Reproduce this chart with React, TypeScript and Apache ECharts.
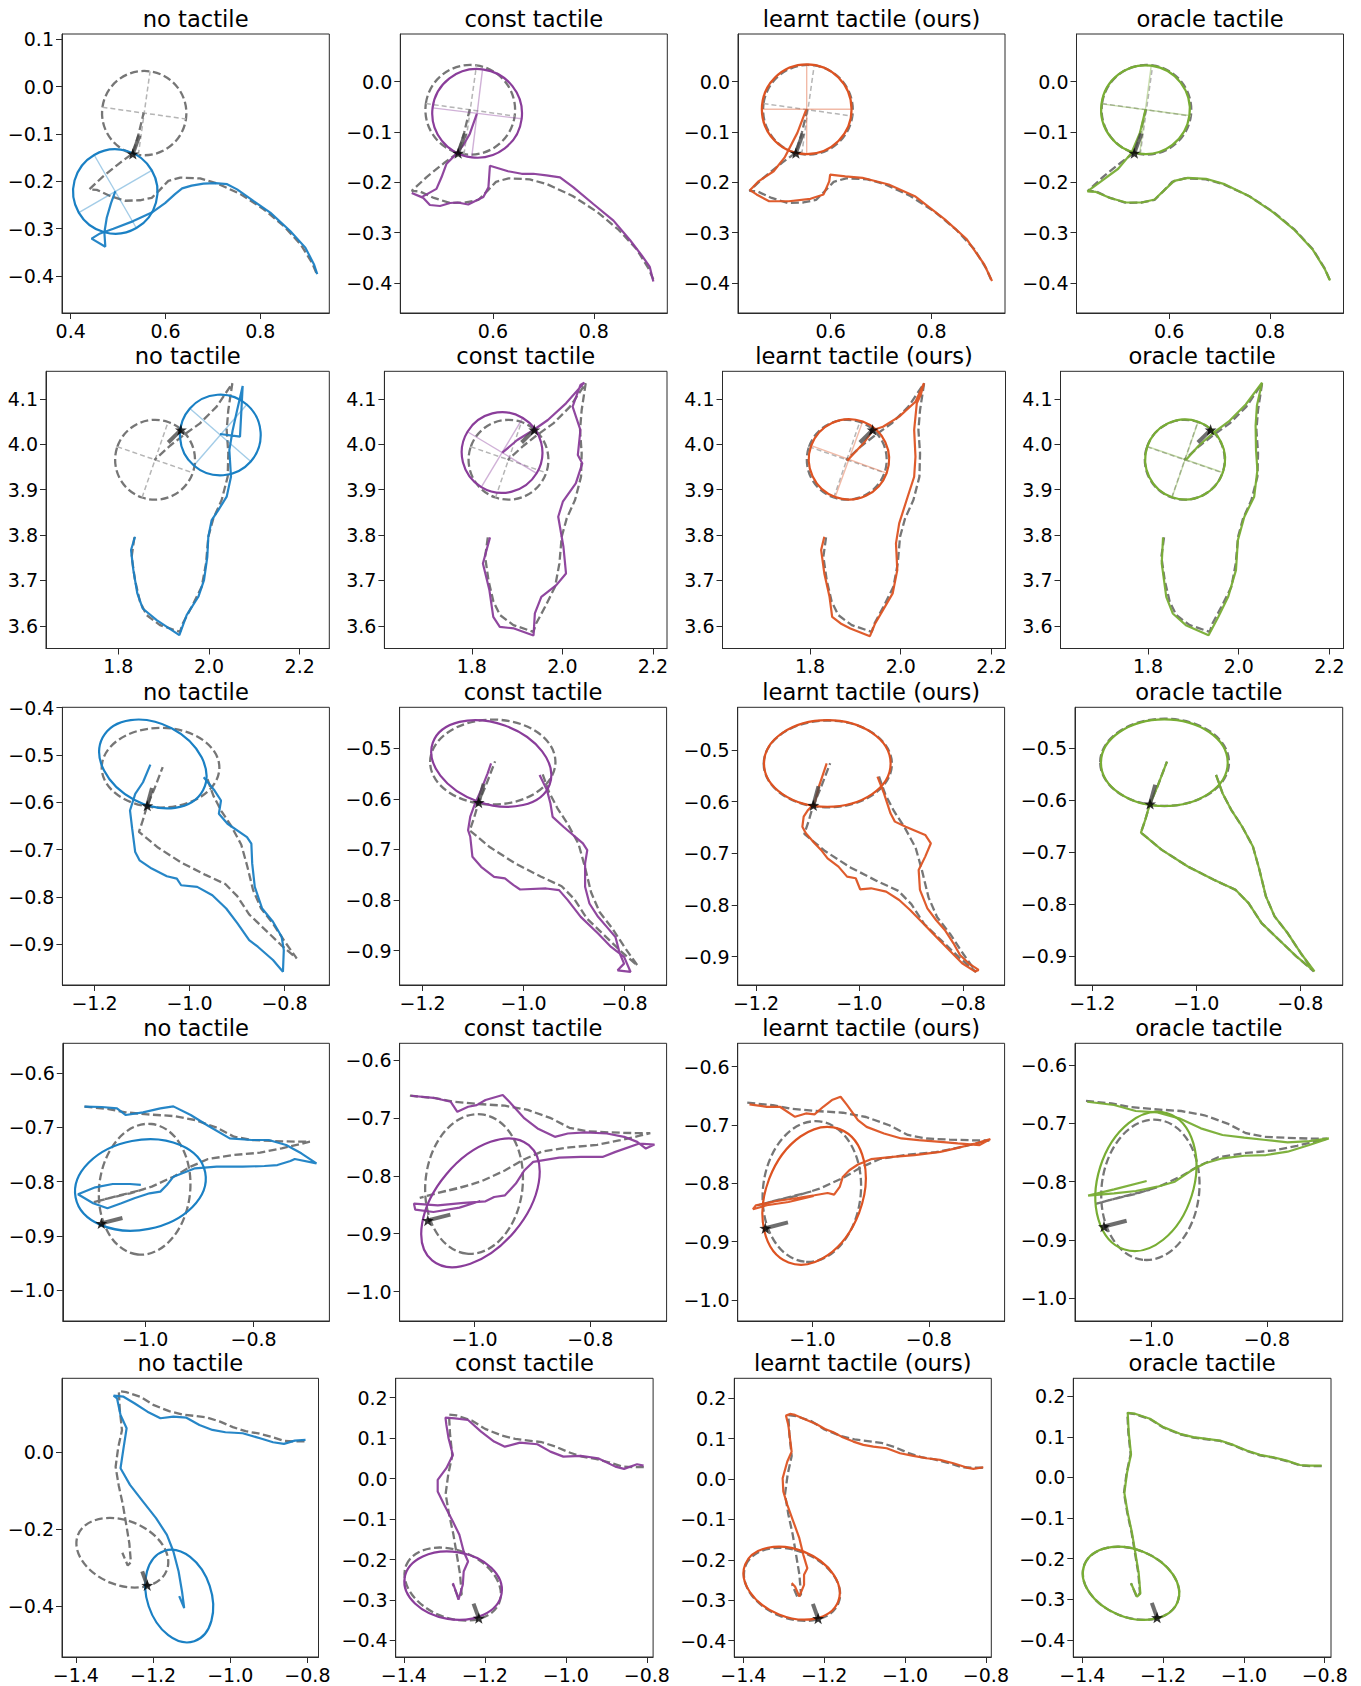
import React, { useEffect, useRef } from "react";
import * as echarts from "echarts";

// ---------------- labels & colours ----------------
const PANEL_TITLES = ["no tactile", "const tactile", "learnt tactile (ours)", "oracle tactile"];
const PANEL_COLORS = ["#1a80c4", "#8a3d9a", "#dd5322", "#78ad34"];
const GT_COLOR = "#767676";
const FONT = "'DejaVu Sans', sans-serif";

// ---------------- row 1 ----------------
const gtTraj1 = [[0.918,-0.393],[0.909,-0.372],[0.885,-0.333],[0.849,-0.294],[0.807,-0.259],[0.758,-0.227],[0.708,-0.204],[0.673,-0.194],[0.631,-0.192],[0.606,-0.199],[0.589,-0.217],[0.571,-0.235],[0.546,-0.240],[0.515,-0.241],[0.483,-0.231],[0.455,-0.218],[0.439,-0.217],[0.469,-0.189],[0.504,-0.161],[0.531,-0.141],[0.543,-0.101],[0.554,-0.055]];
const gtObj1 = [0.555, -0.056, 0.089, 0.089, -8];
const noTacTraj1 = [[0.920,-0.396],[0.913,-0.375],[0.895,-0.340],[0.863,-0.305],[0.821,-0.266],[0.786,-0.242],[0.751,-0.217],[0.730,-0.206],[0.705,-0.204],[0.680,-0.205],[0.655,-0.209],[0.635,-0.215],[0.620,-0.227],[0.599,-0.246],[0.571,-0.266],[0.532,-0.284],[0.490,-0.300],[0.462,-0.310],[0.444,-0.321],[0.473,-0.338],[0.471,-0.308],[0.476,-0.277],[0.485,-0.246],[0.494,-0.221]];
const noTacObj1 = [0.494, -0.2215, 0.089, 0.089, 30];
const constTacTraj1 = [[0.918,-0.397],[0.911,-0.368],[0.895,-0.345],[0.872,-0.315],[0.839,-0.276],[0.799,-0.243],[0.759,-0.2095],[0.733,-0.19],[0.706,-0.186],[0.680,-0.183],[0.657,-0.183],[0.630,-0.178],[0.594,-0.167],[0.591,-0.21],[0.581,-0.229],[0.561,-0.239],[0.551,-0.244],[0.530,-0.240],[0.515,-0.241],[0.495,-0.247],[0.475,-0.245],[0.462,-0.231],[0.439,-0.221],[0.4586,-0.2293],[0.488,-0.213],[0.498,-0.19],[0.508,-0.163],[0.528,-0.143],[0.542,-0.125],[0.554,-0.104],[0.568,-0.064]];
const constTacObj1 = [0.5686, -0.063, 0.089, 0.088, -7];
const learntTacTraj1 = [[0.920,-0.396],[0.9045,-0.363],[0.870,-0.313],[0.827,-0.274],[0.767,-0.2275],[0.715,-0.2044],[0.663,-0.191],[0.629,-0.188],[0.599,-0.1845],[0.5972,-0.198],[0.586,-0.224],[0.560,-0.2327],[0.517,-0.2375],[0.478,-0.2375],[0.453,-0.224],[0.440,-0.2156],[0.457,-0.198],[0.487,-0.178],[0.5085,-0.151],[0.534,-0.1018],[0.5515,-0.0556]];
const learntTacObj1 = [0.5525, -0.055, 0.089, 0.089, 0];
const oracleTacTraj1 = [[0.919,-0.395],[0.909,-0.373],[0.885,-0.334],[0.849,-0.295],[0.807,-0.260],[0.758,-0.227],[0.708,-0.203],[0.673,-0.193],[0.637,-0.191],[0.610,-0.197],[0.590,-0.216],[0.571,-0.234],[0.546,-0.240],[0.515,-0.240],[0.483,-0.231],[0.455,-0.219],[0.438,-0.218],[0.465,-0.198],[0.499,-0.173],[0.525,-0.142],[0.542,-0.102],[0.553,-0.056]];
const oracleTacObj1 = [0.553, -0.0557, 0.088, 0.088, -7.5];
const star1 = [0.531, -0.142];
const finger1 = [[0.531, -0.142], [0.545, -0.103]];

// ---------------- row 2 ----------------
const gtTraj2 = [[1.8353,3.7949],[1.8294,3.7522],[1.8368,3.7007],[1.8478,3.653],[1.8625,3.6235],[1.8919,3.6015],[1.936,3.5868],[1.942,3.6051],[1.9618,3.6419],[1.9838,3.686],[1.9934,3.7375],[1.9985,3.7963],[2.0096,3.8368],[2.0279,3.8772],[2.0412,3.9287],[2.0426,3.9801],[2.039,4.0316],[2.0426,4.0757],[2.0515,4.1346],[2.0169,4.0831],[1.9801,4.0463],[1.947,4.0226],[1.914,3.9969],[1.8794,3.9654]];
const gtObj2 = [1.881, 3.966, 0.088, 0.088, -19];
const noTacTraj2 = [[1.8368,3.7963],[1.828,3.767],[1.8331,3.7228],[1.8419,3.6713],[1.8537,3.6382],[1.8846,3.6125],[1.9346,3.5794],[1.9507,3.6235],[1.9765,3.664],[1.989,3.7007],[1.9963,3.7522],[1.9985,3.7963],[2.0059,3.8331],[2.0206,3.8551],[2.039,3.8846],[2.0485,3.9287],[2.0449,3.9875],[2.052,4.03],[2.062,4.075],[2.0743,4.1287],[2.0684,4.0169],[2.0243,4.0228]];
const noTacObj2 = [2.025, 4.0206, 0.089, 0.089, -41];
const constTacTraj2 = [[1.8402,3.7949],[1.8245,3.7375],[1.8388,3.6787],[1.8474,3.6199],[1.8618,3.5978],[1.8933,3.5942],[1.9363,3.5787],[1.9392,3.6272],[1.9535,3.664],[1.9866,3.6897],[2.008,3.7154],[2.0023,3.7743],[1.9908,3.8404],[2.001,3.8735],[2.0296,3.9139],[2.044,3.958],[2.0341,3.9764],[2.0398,4.0316],[2.0226,4.083],[2.0398,4.1308],[2.0484,4.136],[2.008,4.0904],[1.9679,4.0537],[1.9363,4.0316],[1.9004,4.0096],[1.8675,3.9816]];
const constTacObj2 = [1.8668, 3.982, 0.089, 0.089, -31];
const learntTacTraj2 = [[1.8315,3.7962],[1.8245,3.7669],[1.8315,3.7155],[1.843,3.6639],[1.8488,3.6198],[1.8675,3.6052],[1.8889,3.5942],[1.9321,3.5772],[1.9436,3.6052],[1.9608,3.6345],[1.9822,3.6714],[1.9924,3.7228],[1.9895,3.7817],[1.9966,3.8258],[2.0153,3.8845],[2.0296,3.9286],[2.0325,3.9727],[2.0296,4.0316],[2.0354,4.0905],[2.044,4.1088],[2.0513,4.1346],[2.0325,4.094],[1.9966,4.061],[1.9608,4.0389],[1.9392,4.0316],[1.9178,4.0023],[1.8818,3.9639]];
const learntTacObj2 = [1.8858, 3.967, 0.0885, 0.0885, -20];
const oracleTacTraj2 = [[1.8331,3.7949],[1.8302,3.7375],[1.8402,3.6639],[1.8545,3.6272],[1.8834,3.6014],[1.9335,3.5794],[1.9551,3.6198],[1.9767,3.6639],[1.9939,3.7228],[1.9981,3.7889],[2.0124,3.8404],[2.0341,3.8845],[2.0411,3.9434],[2.0381,3.9875],[2.0372,4.041],[2.0401,4.0855],[2.0513,4.136],[2.0154,4.0878],[1.9781,4.0504],[1.9455,4.0266],[1.912,3.9975],[1.8834,3.9654]];
const oracleTacObj2 = [1.8818, 3.9666, 0.088, 0.088, -19];
const star2 = [1.938, 4.032];
const finger2 = [[1.938, 4.032], [1.910, 4.004]];

// ---------------- row 3 ----------------
const gtTraj3 = [[-0.9621,-0.5513],[-0.9496,-0.5865],[-0.9329,-0.6185],[-0.912,-0.6506],[-0.8912,-0.689],[-0.8787,-0.7339],[-0.8662,-0.7852],[-0.8495,-0.8237],[-0.8245,-0.8558],[-0.7994,-0.8942],[-0.7743,-0.9296],[-0.8077,-0.9008],[-0.8411,-0.8687],[-0.8745,-0.8367],[-0.8995,-0.7982],[-0.9246,-0.7726],[-0.9663,-0.7533],[-1.0164,-0.7277],[-1.0664,-0.6956],[-1.1065,-0.6623],[-1.0982,-0.6379],[-1.0898,-0.609],[-1.0748,-0.5738],[-1.0564,-0.5256]];
const gtObj3 = [-1.061, -0.527, 0.124, 0.084, 0];
const noTacTraj3 = [[-0.9701,-0.5471],[-0.9473,-0.5752],[-0.9337,-0.5962],[-0.9382,-0.6243],[-0.92,-0.6453],[-0.879,-0.6734],[-0.8698,-0.6874],[-0.868,-0.7295],[-0.8626,-0.7786],[-0.8471,-0.8242],[-0.8243,-0.8523],[-0.806,-0.8839],[-0.8015,-0.912],[-0.8033,-0.9576],[-0.8243,-0.933],[-0.8562,-0.9049],[-0.8744,-0.8909],[-0.899,-0.8558],[-0.9227,-0.8242],[-0.9519,-0.7961],[-0.9838,-0.7786],[-1.0176,-0.7751],[-1.0267,-0.7611],[-1.0477,-0.7562],[-1.0796,-0.74],[-1.1052,-0.7225],[-1.1143,-0.705],[-1.1207,-0.6558],[-1.1253,-0.6173],[-1.1143,-0.5822],[-1.0979,-0.5577],[-1.0824,-0.5205]];
const noTacObj3 = [-1.0772, -0.5191, 0.1196, 0.0851, -27.7];
const constTacTraj3 = [[-0.9683,-0.5529],[-0.9537,-0.5826],[-0.9468,-0.609],[-0.9425,-0.6354],[-0.9211,-0.655],[-0.8825,-0.688],[-0.8739,-0.7012],[-0.8782,-0.7276],[-0.8782,-0.7738],[-0.8696,-0.8068],[-0.8525,-0.8332],[-0.8353,-0.8531],[-0.8181,-0.8729],[-0.8095,-0.9059],[-0.801,-0.9257],[-0.8138,-0.9389],[-0.7881,-0.9422],[-0.801,-0.9125],[-0.8267,-0.8927],[-0.8525,-0.8663],[-0.8868,-0.8332],[-0.9125,-0.8002],[-0.9297,-0.7804],[-0.9554,-0.7771],[-1.0069,-0.7791],[-1.0198,-0.7705],[-1.0369,-0.7573],[-1.0584,-0.754],[-1.0841,-0.7342],[-1.1013,-0.7144],[-1.1056,-0.6748],[-1.1099,-0.6616],[-1.1056,-0.6352],[-1.0971,-0.612],[-1.0841,-0.5823],[-1.0712,-0.5493],[-1.0644,-0.5295]];
const constTacObj3 = [-1.064, -0.5299, 0.1228, 0.0798, -19.6];
const learntTacTraj3 = [[-0.965,-0.5516],[-0.9524,-0.5838],[-0.9398,-0.6225],[-0.9313,-0.6386],[-0.9104,-0.6483],[-0.8726,-0.6644],[-0.8617,-0.6805],[-0.8726,-0.7063],[-0.8853,-0.7321],[-0.8828,-0.7708],[-0.8685,-0.8063],[-0.8517,-0.8289],[-0.8348,-0.8482],[-0.818,-0.874],[-0.8054,-0.8966],[-0.7886,-0.9127],[-0.7694,-0.9256],[-0.776,-0.9288],[-0.8012,-0.9127],[-0.8265,-0.8869],[-0.8517,-0.8611],[-0.8768,-0.8353],[-0.9019,-0.8095],[-0.923,-0.7902],[-0.9482,-0.7741],[-0.9775,-0.7676],[-0.9985,-0.7695],[-1.007,-0.7482],[-1.0238,-0.745],[-1.0404,-0.7257],[-1.0615,-0.7096],[-1.0741,-0.6934],[-1.0867,-0.6805],[-1.1035,-0.6612],[-1.1102,-0.6483],[-1.1077,-0.6289],[-1.0992,-0.616],[-1.0867,-0.6031],[-1.0783,-0.5709],[-1.0632,-0.5258]];
const learntTacObj3 = [-1.062, -0.526, 0.1225, 0.0838, 0];
const oracleTacTraj3 = [[-0.9621,-0.5513],[-0.9496,-0.5865],[-0.9329,-0.6185],[-0.912,-0.6506],[-0.8912,-0.689],[-0.8787,-0.7339],[-0.8662,-0.7852],[-0.8495,-0.8237],[-0.8245,-0.8558],[-0.7994,-0.8942],[-0.7727,-0.9295],[-0.8077,-0.9008],[-0.8411,-0.8687],[-0.8745,-0.8367],[-0.8995,-0.7982],[-0.9246,-0.7726],[-0.9663,-0.7533],[-1.0164,-0.7277],[-1.0664,-0.6956],[-1.1065,-0.6623],[-1.0982,-0.6379],[-1.0898,-0.609],[-1.0748,-0.5738],[-1.0564,-0.5256]];
const oracleTacObj3 = [-1.0615, -0.5276, 0.122, 0.0834, 0];
const star3 = [-1.089, -0.607];
const finger3 = [[-1.089, -0.607], [-1.079, -0.570]];

// ---------------- row 4 ----------------
const gtTraj4 = [[-1.112,-0.6616],[-1.068,-0.6659],[-1.0358,-0.6721],[-0.9958,-0.6758],[-0.9478,-0.6789],[-0.9079,-0.6862],[-0.868,-0.7004],[-0.836,-0.717],[-0.804,-0.7231],[-0.764,-0.725],[-0.724,-0.7262],[-0.6961,-0.7262],[-0.716,-0.7311],[-0.748,-0.7385],[-0.788,-0.7465],[-0.836,-0.7508],[-0.884,-0.7582],[-0.916,-0.7723],[-0.9478,-0.7908],[-0.9878,-0.8092],[-1.0278,-0.8215],[-1.068,-0.8307],[-1.095,-0.838],[-1.05,-0.826],[-1.002,-0.814]];
const gtObj4 = [-1.001, -0.814, 0.121, 0.084, 84];
const noTacTraj4 = [[-1.112,-0.6616],[-1.08,-0.6622],[-1.052,-0.6647],[-1.0358,-0.677],[-1.004,-0.6721],[-0.972,-0.6647],[-0.948,-0.661],[-0.916,-0.677],[-0.884,-0.6967],[-0.844,-0.7201],[-0.804,-0.7231],[-0.772,-0.7231],[-0.74,-0.7323],[-0.712,-0.7477],[-0.684,-0.7662],[-0.724,-0.7582],[-0.732,-0.7619],[-0.756,-0.7693],[-0.78,-0.7711],[-0.8201,-0.7723],[-0.868,-0.7723],[-0.908,-0.7754],[-0.9478,-0.7908],[-0.96,-0.8061],[-0.972,-0.8184],[-0.992,-0.8215],[-1.02,-0.8307],[-1.044,-0.8399],[-1.0696,-0.8491],[-1.096,-0.8399],[-1.124,-0.8233],[-1.092,-0.8104],[-1.06,-0.8043],[-1.028,-0.8043],[-1.008,-0.8061]];
const noTacObj4 = [-1.0088, -0.8061, 0.1218, 0.0826, 10.9];
const constTacTraj4 = [[-1.1102,-0.6617],[-1.0713,-0.6652],[-1.0413,-0.6721],[-1.0299,-0.6894],[-1.0112,-0.6807],[-0.9964,-0.6778],[-0.9812,-0.669],[-0.9514,-0.6604],[-0.9399,-0.6721],[-0.9138,-0.7009],[-0.8912,-0.7182],[-0.8612,-0.7326],[-0.8388,-0.7269],[-0.8087,-0.7251],[-0.7713,-0.7269],[-0.7413,-0.7326],[-0.7188,-0.7413],[-0.7038,-0.7528],[-0.6889,-0.7459],[-0.7151,-0.7442],[-0.7563,-0.7586],[-0.7788,-0.7673],[-0.8162,-0.7673],[-0.8537,-0.7684],[-0.8987,-0.7759],[-0.9137,-0.7903],[-0.9287,-0.8134],[-0.9474,-0.8336],[-0.9662,-0.8365],[-0.9812,-0.844],[-1.0187,-0.8468],[-1.0637,-0.8509],[-1.105,-0.848],[-1.1027,-0.8584],[-1.0712,-0.8624],[-1.0262,-0.8549],[-0.9902,-0.8434]];
const constTacObj4 = [-0.9899, -0.8466, 0.13, 0.077, 50];
const learntTacTraj4 = [[-1.1082,-0.6646],[-1.0784,-0.6687],[-1.056,-0.6687],[-1.0299,-0.6859],[-1.0112,-0.6801],[-0.9964,-0.6818],[-0.9814,-0.6687],[-0.9665,-0.6572],[-0.9516,-0.6515],[-0.9404,-0.6658],[-0.9218,-0.6916],[-0.9069,-0.7031],[-0.877,-0.7144],[-0.8472,-0.723],[-0.8174,-0.7259],[-0.7801,-0.7288],[-0.7502,-0.7316],[-0.7129,-0.7345],[-0.6943,-0.7242],[-0.7204,-0.7316],[-0.7502,-0.7392],[-0.7801,-0.746],[-0.8247,-0.7517],[-0.862,-0.7546],[-0.8993,-0.7586],[-0.9218,-0.7677],[-0.9366,-0.7775],[-0.9478,-0.789],[-0.9531,-0.8062],[-0.9627,-0.8193],[-0.9739,-0.8165],[-0.9964,-0.8204],[-1.0261,-0.8251],[-1.0634,-0.8307],[-1.0969,-0.8376],[-1.1022,-0.8445],[-1.0784,-0.8376],[-1.0411,-0.832],[-0.9978,-0.8216]];
const learntTacObj4 = [-0.9971, -0.8214, 0.1226, 0.0825, 69];
const oracleTacTraj4 = [[-1.11,-0.663],[-1.0636,-0.6686],[-1.0262,-0.6789],[-0.9888,-0.6812],[-0.9514,-0.6915],[-0.914,-0.7086],[-0.8766,-0.7201],[-0.8391,-0.7246],[-0.8017,-0.7286],[-0.7643,-0.7326],[-0.7269,-0.7304],[-0.6933,-0.7258],[-0.7269,-0.7372],[-0.7643,-0.7487],[-0.8017,-0.7544],[-0.8391,-0.7556],[-0.8766,-0.76],[-0.9066,-0.7686],[-0.929,-0.7801],[-0.9588,-0.8001],[-0.9888,-0.8087],[-1.0262,-0.8161],[-1.0636,-0.8201],[-1.1084,-0.8241],[-1.0636,-0.8132],[-1.0074,-0.799]];
const oracleTacObj4 = [-1.0087, -0.7996, 0.1229, 0.0825, 72.6];
const star4 = [-1.081, -0.877];
const finger4 = [[-1.081, -0.877], [-1.042, -0.867]];

// ---------------- row 5 ----------------
const gtTraj5 = [[-0.8076,0.0281],[-0.8365,0.0281],[-0.8612,0.0297],[-0.8942,0.0404],[-0.9272,0.0487],[-0.9602,0.0545],[-0.9932,0.0652],[-1.0262,0.0792],[-1.0592,0.0899],[-1.0922,0.0941],[-1.1252,0.0982],[-1.1582,0.1064],[-1.1995,0.1229],[-1.2325,0.1436],[-1.2696,0.156],[-1.2886,0.1584],[-1.2861,0.1106],[-1.2804,0.0569],[-1.2903,0.0116],[-1.2969,-0.038],[-1.2886,-0.0875],[-1.2779,-0.137],[-1.2696,-0.1865],[-1.2614,-0.236],[-1.2573,-0.2855],[-1.2655,-0.2937],[-1.2795,-0.2607]];
const gtObj5 = [-1.2795, -0.2607, 0.1239, 0.0835, -22];
const noTacTraj5 = [[-0.8049,0.0319],[-0.8329,0.0301],[-0.8609,0.0215],[-0.8891,0.0259],[-0.9228,0.0363],[-0.9676,0.0492],[-1.0124,0.0518],[-1.0461,0.0578],[-1.0798,0.0707],[-1.1135,0.0896],[-1.1472,0.0922],[-1.1808,0.0881],[-1.2145,0.1052],[-1.2482,0.1269],[-1.2764,0.144],[-1.3021,0.1466],[-1.2933,0.1399],[-1.2842,0.0966],[-1.2684,0.0622],[-1.2764,0.0104],[-1.2842,-0.0415],[-1.2596,-0.0847],[-1.2259,-0.128],[-1.1922,-0.171],[-1.164,-0.2142],[-1.1472,-0.2575],[-1.1337,-0.3093],[-1.1249,-0.3611],[-1.1192,-0.4041],[-1.1322,-0.3732]];
const noTacObj5 = [-1.1322, -0.3732, 0.1234, 0.0833, 108.4];
const constTacTraj5 = [[-0.8081,0.0321],[-0.8242,0.0355],[-0.8563,0.024],[-0.8778,0.0296],[-0.9205,0.0503],[-0.9632,0.056],[-1.0062,0.0543],[-1.0383,0.0667],[-1.0704,0.0849],[-1.1131,0.0889],[-1.1506,0.079],[-1.1773,0.0914],[-1.2094,0.116],[-1.2415,0.1449],[-1.2736,0.149],[-1.2973,0.1506],[-1.2951,0.1326],[-1.2897,0.0998],[-1.279,0.0585],[-1.2951,0.0257],[-1.3165,-0.0032],[-1.3165,-0.0321],[-1.3005,-0.0649],[-1.279,-0.1062],[-1.263,-0.139],[-1.2523,-0.1802],[-1.2415,-0.2049],[-1.2523,-0.2296],[-1.2545,-0.2625],[-1.2652,-0.2995],[-1.2716,-0.279],[-1.279,-0.2583]];
const constTacObj5 = [-1.2784, -0.2646, 0.1213, 0.0832, -9.4];
const learntTacTraj5 = [[-0.8064,0.0293],[-0.8311,0.0252],[-0.8476,0.0285],[-0.8806,0.0392],[-0.9136,0.0475],[-0.9466,0.0516],[-0.9796,0.0574],[-1.0125,0.064],[-1.0455,0.0763],[-1.0785,0.0805],[-1.1032,0.0846],[-1.1279,0.0928],[-1.1527,0.1027],[-1.1774,0.1159],[-1.198,0.1242],[-1.2186,0.1357],[-1.2434,0.1464],[-1.2722,0.1588],[-1.2846,0.1613],[-1.2945,0.1571],[-1.2887,0.134],[-1.2805,0.0681],[-1.2912,0.0434],[-1.3027,0.0021],[-1.3011,-0.0308],[-1.2912,-0.0638],[-1.2763,-0.105],[-1.2615,-0.1463],[-1.2516,-0.1875],[-1.2417,-0.2205],[-1.2498,-0.2369],[-1.2498,-0.2617],[-1.2615,-0.2905],[-1.2722,-0.2658],[-1.2805,-0.2576]];
const learntTacObj5 = [-1.2805, -0.2576, 0.1239, 0.0835, -22];
const oracleTacTraj5 = [[-0.8076,0.0291],[-0.8365,0.0291],[-0.8612,0.0307],[-0.8942,0.0414],[-0.9272,0.0497],[-0.9602,0.0555],[-0.9932,0.0662],[-1.0262,0.0802],[-1.0592,0.0909],[-1.0922,0.0951],[-1.1252,0.0992],[-1.1582,0.1074],[-1.1995,0.1239],[-1.2325,0.1446],[-1.2696,0.157],[-1.2876,0.1594],[-1.2851,0.1106],[-1.2794,0.0569],[-1.2893,0.0116],[-1.2959,-0.038],[-1.2876,-0.0875],[-1.2769,-0.137],[-1.2686,-0.1865],[-1.2604,-0.236],[-1.2563,-0.2855],[-1.2645,-0.2937],[-1.2795,-0.2607]];
const oracleTacObj5 = [-1.2795, -0.2607, 0.1239, 0.0835, -22];
const star5 = [-1.215, -0.345];
const finger5 = [[-1.215, -0.345], [-1.228, -0.309]];

// ---------------- axis limits & ticks ----------------
const X_LIMITS = [
  [[0.3816, 0.9455], [0.4163, 0.9457], [0.4163, 0.9457], [0.4163, 0.9457]],
  [[1.6404, 2.2654], [1.607, 2.231], [1.607, 2.231], [1.607, 2.231]],
  [[-1.2676, -0.7055], [-1.2455, -0.7168], [-1.2353, -0.7191], [-1.2333, -0.7185]],
  [[-1.152, -0.6601], [-1.1298, -0.6679], [-1.1284, -0.6698], [-1.131, -0.6693]],
  [[-1.4358, -0.7713], [-1.4202, -0.7846], [-1.4223, -0.7867], [-1.4223, -0.7845]],
];
const Y_LIMITS = [
  [[-0.478, 0.111], [-0.4594, 0.0945], [-0.4594, 0.0945], [-0.4594, 0.0945]],
  [[3.55, 4.161], [3.55, 4.161], [3.55, 4.161], [3.55, 4.161]],
  [[-0.9857, -0.3995], [-0.968, -0.4188], [-0.9547, -0.4174], [-0.9559, -0.421]],
  [[-1.0572, -0.5446], [-1.0507, -0.5711], [-1.0361, -0.5598], [-1.039, -0.5628]],
  [[-0.5311, 0.1917], [-0.441, 0.2479], [-0.4404, 0.2495], [-0.4422, 0.2442]],
];
const X_TICKS = [
  [[0.4, 0.6, 0.8], [0.6, 0.8], [0.6, 0.8], [0.6, 0.8]],
  [[1.8, 2.0, 2.2], [1.8, 2.0, 2.2], [1.8, 2.0, 2.2], [1.8, 2.0, 2.2]],
  [[-1.2, -1.0, -0.8], [-1.2, -1.0, -0.8], [-1.2, -1.0, -0.8], [-1.2, -1.0, -0.8]],
  [[-1.0, -0.8], [-1.0, -0.8], [-1.0, -0.8], [-1.0, -0.8]],
  [[-1.4, -1.2, -1.0, -0.8], [-1.4, -1.2, -1.0, -0.8], [-1.4, -1.2, -1.0, -0.8], [-1.4, -1.2, -1.0, -0.8]],
];
const Y_TICKS = [
  [[-0.4, -0.3, -0.2, -0.1, 0.0, 0.1], [-0.4, -0.3, -0.2, -0.1, 0.0], [-0.4, -0.3, -0.2, -0.1, 0.0], [-0.4, -0.3, -0.2, -0.1, 0.0]],
  [[3.6, 3.7, 3.8, 3.9, 4.0, 4.1], [3.6, 3.7, 3.8, 3.9, 4.0, 4.1], [3.6, 3.7, 3.8, 3.9, 4.0, 4.1], [3.6, 3.7, 3.8, 3.9, 4.0, 4.1]],
  [[-0.9, -0.8, -0.7, -0.6, -0.5, -0.4], [-0.9, -0.8, -0.7, -0.6, -0.5], [-0.9, -0.8, -0.7, -0.6, -0.5], [-0.9, -0.8, -0.7, -0.6, -0.5]],
  [[-1.0, -0.9, -0.8, -0.7, -0.6], [-1.0, -0.9, -0.8, -0.7, -0.6], [-1.0, -0.9, -0.8, -0.7, -0.6], [-1.0, -0.9, -0.8, -0.7, -0.6]],
  [[-0.4, -0.2, 0.0], [-0.4, -0.3, -0.2, -0.1, 0.0, 0.1, 0.2], [-0.4, -0.3, -0.2, -0.1, 0.0, 0.1, 0.2], [-0.4, -0.3, -0.2, -0.1, 0.0, 0.1, 0.2]],
];

// ---------------- layout (pixels) ----------------
const ROW_TOP = [34, 371.3, 707.3, 1043.3, 1378.3];
const ROW_BOTTOM = [313, 648.5, 985, 1321, 1657];
const PANEL_LEFT = [
  [62, 400.3, 738, 1076.5],
  [46, 384.4, 722.5, 1060.5],
  [62.4, 399.6, 737.7, 1075],
  [62.8, 399.6, 737.7, 1075],
  [62, 395.7, 734.3, 1073.3],
];
const PANEL_RIGHT = [
  [329.3, 667.3, 1005, 1343.5],
  [329.3, 667, 1005.5, 1343.5],
  [329.4, 666.6, 1004.6, 1342.7],
  [329.4, 666.6, 1004.6, 1342.7],
  [318.5, 653.1, 991.3, 1331],
];

const ROWS = [
  { gt: gtTraj1, gtObj: gtObj1, preds: [noTacTraj1, constTacTraj1, learntTacTraj1, oracleTacTraj1], objs: [noTacObj1, constTacObj1, learntTacObj1, oracleTacObj1], star: star1, finger: finger1, cross: true },
  { gt: gtTraj2, gtObj: gtObj2, preds: [noTacTraj2, constTacTraj2, learntTacTraj2, oracleTacTraj2], objs: [noTacObj2, constTacObj2, learntTacObj2, oracleTacObj2], star: star2, finger: finger2, cross: true },
  { gt: gtTraj3, gtObj: gtObj3, preds: [noTacTraj3, constTacTraj3, learntTacTraj3, oracleTacTraj3], objs: [noTacObj3, constTacObj3, learntTacObj3, oracleTacObj3], star: star3, finger: finger3, cross: false },
  { gt: gtTraj4, gtObj: gtObj4, preds: [noTacTraj4, constTacTraj4, learntTacTraj4, oracleTacTraj4], objs: [noTacObj4, constTacObj4, learntTacObj4, oracleTacObj4], star: star4, finger: finger4, cross: false },
  { gt: gtTraj5, gtObj: gtObj5, preds: [noTacTraj5, constTacTraj5, learntTacTraj5, oracleTacTraj5], objs: [noTacObj5, constTacObj5, learntTacObj5, oracleTacObj5], star: star5, finger: finger5, cross: false },
];

const STAR_PATH = "path://M0,-10 L2.35,-3.24 L9.51,-3.09 L3.8,1.24 L5.88,8.09 L0,4 L-5.88,8.09 L-3.8,1.24 L-9.51,-3.09 L-2.35,-3.24 Z";

const fmt = (v: number) => {
  const s = Number(v).toFixed(1);
  return s.charAt(0) === "-" ? "\u2212" + s.slice(1) : s;
};

function ellipseRender(stroke: string, width: number, dash: number[] | null, opacity: number) {
  return (_params: any, api: any) => {
    const c = api.coord([api.value(0), api.value(1)]);
    const s = api.size([1, 1]);
    const k = (s[0] + s[1]) / 2;
    const style: any = { fill: "none", stroke, lineWidth: width, opacity };
    if (dash) style.lineDash = dash;
    return {
      type: "ellipse",
      x: c[0],
      y: c[1],
      rotation: (api.value(4) * Math.PI) / 180,
      shape: { cx: 0, cy: 0, rx: api.value(2) * k, ry: api.value(3) * k },
      style,
    };
  };
}

function crossRender(stroke: string, width: number, dash: number[] | null, opacity: number) {
  return (_params: any, api: any) => {
    const c = api.coord([api.value(0), api.value(1)]);
    const s = api.size([1, 1]);
    const k = (s[0] + s[1]) / 2;
    const t = (api.value(4) * Math.PI) / 180;
    const a = api.value(2) * k;
    const b = api.value(3) * k;
    const ux = Math.cos(t), uy = -Math.sin(t);
    const vx = -Math.sin(t), vy = -Math.cos(t);
    const style: any = { fill: "none", stroke, lineWidth: width, opacity };
    if (dash) style.lineDash = dash;
    return {
      type: "group",
      children: [
        { type: "line", shape: { x1: c[0] - a * ux, y1: c[1] - a * uy, x2: c[0] + a * ux, y2: c[1] + a * uy }, style },
        { type: "line", shape: { x1: c[0] - b * vx, y1: c[1] - b * vy, x2: c[0] + b * vx, y2: c[1] + b * vy }, style },
      ],
    };
  };
}

function buildOption() {
  const grid: any[] = [];
  const xAxis: any[] = [];
  const yAxis: any[] = [];
  const series: any[] = [];
  const graphic: any[] = [];

  ROWS.forEach((row, r) => {
    for (let c = 0; c < 4; c++) {
      const idx = r * 4 + c;
      const left = PANEL_LEFT[r][c];
      const right = PANEL_RIGHT[r][c];
      const top = ROW_TOP[r];
      const bottom = ROW_BOTTOM[r];
      grid.push({
        left, top, width: right - left, height: bottom - top,
        show: true, borderColor: "#2b2b2b", borderWidth: 1, backgroundColor: "transparent",
        containLabel: false, outerBoundsMode: "none",
      });
      const axisCommon = {
        type: "value",
        gridIndex: idx,
        scale: true,
        splitLine: { show: false },
        axisLine: { show: true, onZero: false, lineStyle: { color: "#2b2b2b", width: 1 } },
      };
      xAxis.push({
        ...axisCommon,
        min: X_LIMITS[r][c][0], max: X_LIMITS[r][c][1],
        axisTick: { show: true, length: 6, customValues: X_TICKS[r][c], lineStyle: { color: "#2b2b2b", width: 1 } },
        axisLabel: { show: true, customValues: X_TICKS[r][c], formatter: fmt, fontSize: 19, fontFamily: FONT, color: "#000", margin: 8, hideOverlap: false },
      });
      yAxis.push({
        ...axisCommon,
        min: Y_LIMITS[r][c][0], max: Y_LIMITS[r][c][1],
        axisTick: { show: true, length: 6, customValues: Y_TICKS[r][c], lineStyle: { color: "#2b2b2b", width: 1 } },
        axisLabel: { show: true, customValues: Y_TICKS[r][c], formatter: fmt, fontSize: 19, fontFamily: FONT, color: "#000", margin: 8, hideOverlap: false },
      });
      graphic.push({
        type: "text",
        x: (left + right) / 2,
        y: top - 15,
        silent: true,
        style: { text: PANEL_TITLES[c], fill: "#000", fontSize: 22.6, fontFamily: FONT, align: "center", verticalAlign: "middle" },
      });

      const color = PANEL_COLORS[c];
      const ax = { xAxisIndex: idx, yAxisIndex: idx };
      // ground truth trajectory
      series.push({
        type: "line", ...ax, data: row.gt, symbol: "none", showSymbol: false, silent: true, z: 2,
        lineStyle: { color: GT_COLOR, width: 2.3, type: [8, 3.5] },
      });
      // ground truth object outline
      series.push({ type: "custom", ...ax, data: [row.gtObj], silent: true, clip: true, z: 2, renderItem: ellipseRender(GT_COLOR, 2.3, [8, 3.5], 1) });
      if (row.cross) {
        series.push({ type: "custom", ...ax, data: [row.gtObj], silent: true, clip: true, z: 2, renderItem: crossRender("#b5b5b5", 1.5, [5, 3], 1) });
      }
      // predicted trajectory
      series.push({
        type: "line", ...ax, data: row.preds[c], symbol: "none", showSymbol: false, silent: true, z: 3,
        lineStyle: { color, width: 2.2, type: "solid", opacity: 0.95 },
      });
      series.push({ type: "custom", ...ax, data: [row.objs[c]], silent: true, clip: true, z: 3, renderItem: ellipseRender(color, 2.2, null, 1) });
      if (row.cross) {
        series.push({ type: "custom", ...ax, data: [row.objs[c]], silent: true, clip: true, z: 3, renderItem: crossRender(color, 1.4, null, 0.4) });
      }
      // finger + contact point
      series.push({
        type: "line", ...ax, data: row.finger, symbol: "none", showSymbol: false, silent: true, z: 4,
        lineStyle: { color: "#4a4a4a", width: 4, opacity: 0.8 },
      });
      series.push({
        type: "scatter", ...ax, data: [row.star], symbol: STAR_PATH, symbolKeepAspect: true, symbolSize: 12, silent: true, z: 5,
        itemStyle: { color: "#000" },
      });
    }
  });

  return { animation: false, backgroundColor: "#fff", grid, xAxis, yAxis, series, graphic, tooltip: { show: false } };
}

export default function App() {
  const ref = useRef<HTMLDivElement>(null);
  useEffect(() => {
    if (!ref.current) return;
    const chart = echarts.init(ref.current, null, { renderer: "svg" });
    chart.setOption(buildOption() as any);
    return () => chart.dispose();
  }, []);
  return (
    <div
      ref={ref}
      style={{ position: "absolute", left: 0, top: 0, width: 1361, height: 1686, background: "#fff" }}
    />
  );
}
